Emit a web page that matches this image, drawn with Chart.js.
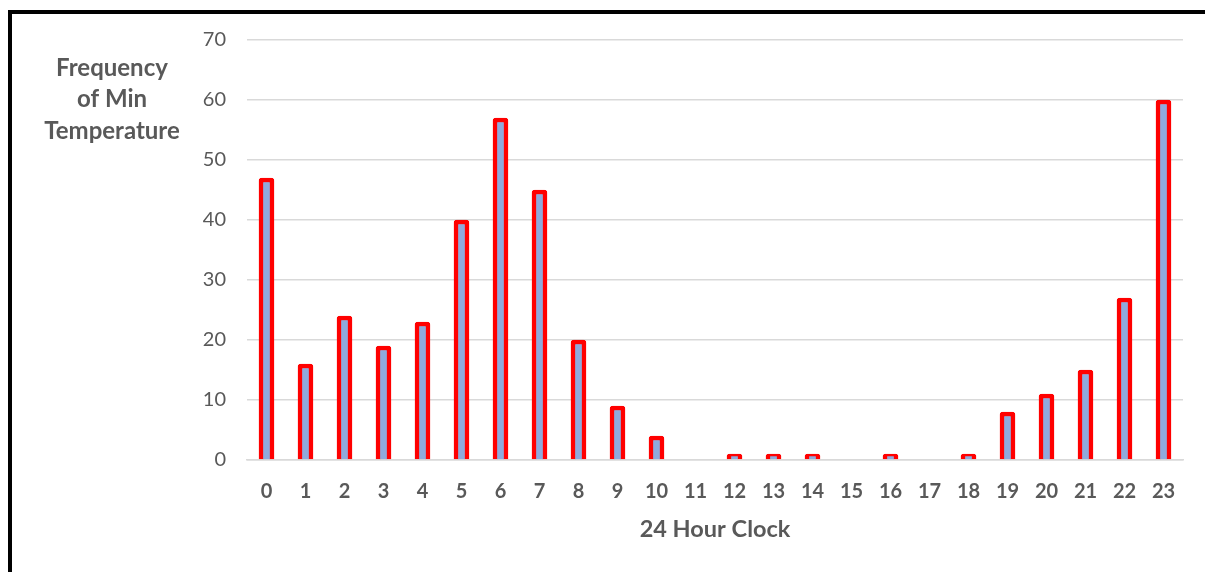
<!DOCTYPE html>
<html>
<head>
<meta charset="utf-8">
<script src="https://cdn.jsdelivr.net/npm/chart.js@4"></script>
<style>
  html, body { margin: 0; padding: 0; width: 1205px; height: 572px; overflow: hidden; background: #fff; }
  #frame { position: absolute; left: 8px; top: 10px; width: 1210px; height: 600px; border: 4px solid #000; box-sizing: border-box; }
  #wrap { position: absolute; left: 0; top: 0; width: 1205px; height: 572px; }
</style>
</head>
<body>
<div id="frame"></div>
<div id="wrap"><canvas id="c" width="1205" height="572"></canvas></div>
<script>
const hours = ['0','1','2','3','4','5','6','7','8','9','10','11','12','13','14','15','16','17','18','19','20','21','22','23'];
const frequency = [47,16,24,19,23,40,57,45,20,9,4,0,1,1,1,0,1,0,1,8,11,15,27,60];
const yTitleLines = ['Frequency','of Min','Temperature'];
const xTitle = '24 Hour Clock';

const FONT = 'Lato, "Open Sans", sans-serif';
const GREY = '#595959';

const titlePlugin = {
  id: 'titles',
  afterDraw(chart) {
    const ctx = chart.ctx;
    const a = chart.chartArea;
    ctx.save();
    ctx.fillStyle = GREY;
    ctx.textAlign = 'center';
    ctx.textBaseline = 'middle';
    ctx.font = 'bold 24px ' + FONT;
    const ys = [68, 99, 131];
    yTitleLines.forEach((t, i) => ctx.fillText(t, 112, ys[i]));
    ctx.font = 'bold 23.5px ' + FONT;
    ctx.fillText(xTitle, (a.left + a.right) / 2, 529);
    ctx.restore();
  }
};

new Chart(document.getElementById('c'), {
  type: 'bar',
  data: {
    labels: hours,
    datasets: [{
      data: frequency,
      backgroundColor: '#8FAADC',
      borderColor: '#FF0000',
      borderWidth: 4.5,
      borderRadius: 3,
      barThickness: 15
    }]
  },
  options: {
    responsive: false,
    animation: false,
    events: [],
    layout: { padding: { left: 0, right: 22, top: 40, bottom: 0 } },
    plugins: { legend: { display: false }, tooltip: { enabled: false } },
    scales: {
      y: {
        min: 0, max: 70,
        ticks: { stepSize: 10, color: GREY, font: { family: FONT, size: 20 }, padding: 21 },
        grid: { color: '#D9D9D9', lineWidth: 1.5, drawTicks: false },
        border: { display: false },
        afterFit(s) { s.width = 247; }
      },
      x: {
        ticks: { color: GREY, font: { family: FONT, size: 20, weight: 'bold' }, padding: 20 },
        grid: { display: false, drawTicks: false },
        border: { color: '#D9D9D9', width: 1.5 },
        afterFit(s) { s.height = 112; }
      }
    }
  },
  plugins: [titlePlugin]
});
</script>
</body>
</html>
